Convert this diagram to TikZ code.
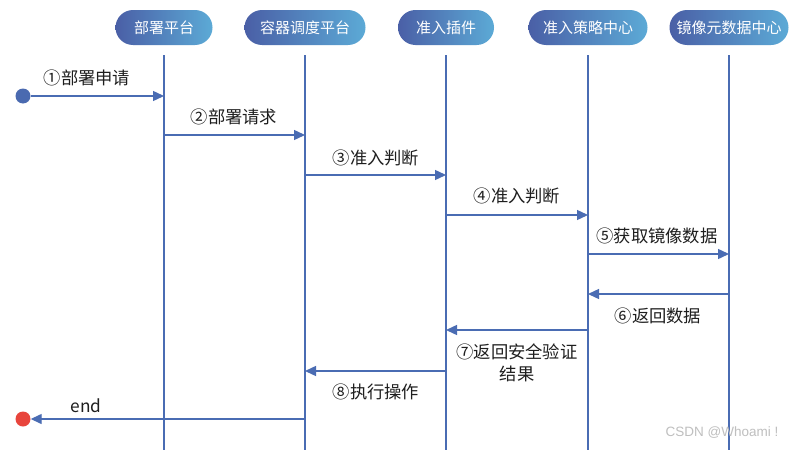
\documentclass[tikz,border=0pt]{standalone}
\usepackage{fontspec}
\setmainfont{Noto Sans CJK SC}
\newfontfamily\wmfont{Liberation Sans}
\usetikzlibrary{arrows.meta,shapes.misc}
\definecolor{lineblue}{HTML}{4A6CB3}
\definecolor{pillL}{HTML}{4A5FA6}
\definecolor{pillR}{HTML}{5CAAD6}
\definecolor{dotblue}{HTML}{4A6AB0}
\definecolor{dotred}{HTML}{E8453C}
\definecolor{txt}{HTML}{1E1E1E}
\begin{document}
\begin{tikzpicture}[x=1pt,y=-1pt,
  pill/.style={rounded rectangle, minimum width=#1, minimum height=35pt,
    left color=pillL, right color=pillR, text=white,
    font=\fontsize{15}{17}\selectfont, inner sep=0pt},
  life/.style={draw=lineblue, line width=1.4pt},
  msg/.style={draw=lineblue, line width=1.4pt, -{Triangle[length=11pt,width=10pt]}},
  lab/.style={text=txt, font=\fontsize{17.3}{22}\selectfont, inner sep=0pt, align=center},
  dotnode/.style={circle, minimum size=15pt, inner sep=0pt}]
\fill[white] (0,0) rectangle (801,450);
\useasboundingbox (0,0) rectangle (801,450);

% headers
\node[pill=97pt]  (h1) at (164,27.5) {部署平台};
\node[pill=121pt] (h2) at (305,27.5) {容器调度平台};
\node[pill=96pt]  (h3) at (446,27.5) {准入插件};
\node[pill=119pt] (h4) at (588,27.5) {准入策略中心};
\node[pill=119pt] (h5) at (729,27.5) {镜像元数据中心};

% lifeline bottoms
\coordinate (b1) at (164,450);
\coordinate (b2) at (305,450);
\coordinate (b3) at (446,450);
\coordinate (b4) at (588,450);
\coordinate (b5) at (729,450);
\foreach \i in {1,...,5}{
  \draw[life] ([yshift=-10pt]h\i.south) -- (b\i);
}

% message end points
\node[dotnode, fill=dotblue] (start) at (23,96) {};
\coordinate (p1) at (164,96);
\coordinate (p2a) at (164,135); \coordinate (p2b) at (305,135);
\coordinate (p3a) at (305,175); \coordinate (p3b) at (446,175);
\coordinate (p4a) at (446,215); \coordinate (p4b) at (588,215);
\coordinate (p5a) at (588,254); \coordinate (p5b) at (729,254);
\coordinate (p6a) at (729,294); \coordinate (p6b) at (588,294);
\coordinate (p7a) at (588,330); \coordinate (p7b) at (446,330);
\coordinate (p8a) at (446,371); \coordinate (p8b) at (305,371);
\coordinate (p9a) at (305,419);
\node[dotnode, fill=dotred] (stop) at (23,419) {};

\draw[msg] (start) -- (p1);
\draw[msg] (p2a) -- (p2b);
\draw[msg] (p3a) -- (p3b);
\draw[msg] (p4a) -- (p4b);
\draw[msg] (p5a) -- (p5b);
\draw[msg] (p6a) -- (p6b);
\draw[msg] (p7a) -- (p7b);
\draw[msg] (p8a) -- (p8b);
\draw[msg] (p9a) -- (stop);

% labels
\node[lab] (l1) at (87,78)  {①部署申请};
\node[lab] (l2) at (234,117) {②部署请求};
\node[lab] (l3) at (376,158) {③准入判断};
\node[lab] (l4) at (517,196) {④准入判断};
\node[lab] (l5) at (657,236) {⑤获取镜像数据};
\node[lab] (l6) at (658,316) {⑥返回数据};
\node[lab] (l7) at (517,363) {⑦返回安全验证\\结果};
\node[lab] (l8) at (376,392) {⑧执行操作};
\node[lab] (l9) at (86,406) {end};

% watermark
\node[text=black!25, font=\wmfont\fontsize{13.5}{15}\selectfont, inner sep=0pt] (wm) at (722,433) {CSDN @Whoami !};
\end{tikzpicture}
\end{document}
